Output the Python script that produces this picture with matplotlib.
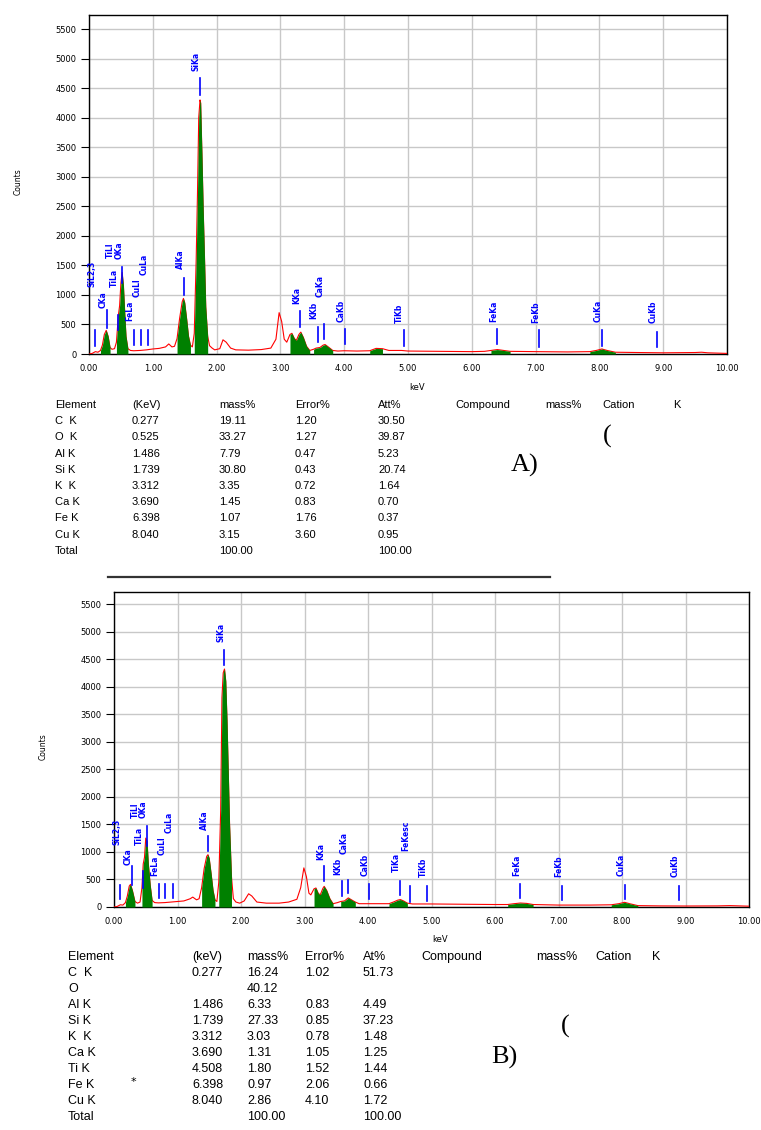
import numpy as np
import matplotlib
matplotlib.use("Agg")
import matplotlib.pyplot as plt
from matplotlib.lines import Line2D

# ---- spectrum A (keV, counts) ----
energy_a = [0.00, 0.05, 0.10, 0.14, 0.18, 0.21, 0.24, 0.27, 0.30, 0.33, 0.36, 0.40, 0.43, 0.46, 0.48,
            0.50, 0.52, 0.54, 0.56, 0.58, 0.61, 0.65, 0.70, 0.80, 0.90, 1.00, 1.10, 1.20, 1.25, 1.30,
            1.34, 1.38, 1.42, 1.46, 1.48, 1.50, 1.53, 1.56, 1.59, 1.62, 1.65, 1.68, 1.70, 1.72, 1.74,
            1.75, 1.77, 1.79, 1.81, 1.83, 1.86, 1.89, 1.93, 1.97, 2.05, 2.10, 2.15, 2.22, 2.30, 2.50, 2.70,
            2.85, 2.93, 2.98, 3.02, 3.06, 3.10, 3.15, 3.18, 3.22, 3.25, 3.29, 3.32, 3.36, 3.41, 3.46,
            3.52, 3.56, 3.62, 3.67, 3.70, 3.75, 3.82, 3.90, 4.00, 4.20, 4.40, 4.50, 4.60, 4.70, 4.90,
            5.00, 5.50, 6.00, 6.20, 6.30, 6.40, 6.50, 6.60, 7.00, 7.50, 7.85, 7.95, 8.04, 8.12, 8.25,
            8.60, 9.00, 9.50, 9.60, 9.70, 10.00]
counts_a = [0, 10, 40, 30, 60, 150, 330, 400, 300, 110, 80, 90, 200, 650, 820,
            1200, 1380, 1150, 700, 300, 90, 60, 55, 60, 70, 85, 95, 120, 170, 120,
            130, 260, 600, 880, 940, 870, 600, 300, 150, 120, 350, 1600, 2700, 4000, 4300,
            4250, 3400, 2450, 1650, 800, 300, 140, 100, 70, 90, 240, 200, 100, 70, 65, 75,
            100, 250, 700, 550, 250, 200, 330, 350, 260, 230, 330, 370, 280, 130, 60,
            80, 100, 110, 150, 160, 120, 60, 50, 55, 50, 55, 95, 90, 60, 60,
            50, 45, 40, 45, 60, 75, 60, 45, 40, 35, 40, 60, 85, 60, 30,
            25, 20, 25, 30, 20, 10]
green_a = [(0.18, 0.34), (0.42, 0.62), (1.36, 1.60), (1.64, 1.87), (3.15, 3.46),
           (3.52, 3.84), (4.38, 4.62), (6.22, 6.60), (7.85, 8.25)]

lines_a = ["SiL2,3", "CKa", "TiLl", "TiLa", "OKa", "FeLa", "CuLl", "CuLa", "AlKa", "SiKa",
           "KKa", "KKb", "CaKa", "CaKb", "TiKb", "FeKa", "FeKb", "CuKa", "CuKb"]
line_kev_a = [0.10, 0.277, 0.395, 0.452, 0.525, 0.705, 0.811, 0.930, 1.486, 1.739,
              3.312, 3.589, 3.690, 4.012, 4.931, 6.398, 7.057, 8.040, 8.904]
# marker stub (low, high) and label start, in counts
stub_lo_a = [135, 434, None, 406, 1196, 152, 152, 152, 1000, 4382, 462, 209, 248, 169, 135, 169, 124, 135, 124]
stub_hi_a = [406, 745, None, 660, 1478, 406, 406, 406, 1280, 4664, 733, 451, 508, 417, 406, 417, 406, 406, 378]
label_at_a = [1130, 773, 1620, 1130, 1602, 564, 959, 1337, 1433, 4794, 846, 587, 970, 547, 530, 547, 530, 547, 530]

# ---- spectrum B ----
energy_b = [0.00, 0.05, 0.10, 0.14, 0.18, 0.21, 0.24, 0.26, 0.29, 0.33, 0.37, 0.41, 0.44, 0.46, 0.48,
            0.50, 0.52, 0.54, 0.57, 0.60, 0.64, 0.70, 0.80, 0.90, 1.00, 1.10, 1.20, 1.24, 1.30, 1.34,
            1.38, 1.42, 1.46, 1.48, 1.50, 1.53, 1.56, 1.59, 1.62, 1.65, 1.68, 1.70, 1.72, 1.74, 1.76,
            1.78, 1.80, 1.82, 1.85, 1.88, 1.92, 1.98, 2.05, 2.12, 2.17, 2.25, 2.40, 2.60, 2.75, 2.88,
            2.94, 2.99, 3.03, 3.07, 3.10, 3.15, 3.18, 3.22, 3.25, 3.29, 3.31, 3.35, 3.40, 3.45, 3.52,
            3.57, 3.63, 3.69, 3.74, 3.80, 3.86, 4.00, 4.20, 4.33, 4.40, 4.47, 4.51, 4.56, 4.62, 4.70,
            5.00, 5.50, 6.00, 6.20, 6.30, 6.40, 6.50, 6.60, 7.00, 7.50, 7.83, 7.95, 8.04, 8.12, 8.25,
            8.60, 9.00, 9.50, 9.70, 10.00]
counts_b = [0, 10, 40, 35, 80, 200, 380, 410, 300, 100, 70, 90, 350, 780, 900,
            1250, 1200, 800, 400, 120, 80, 75, 80, 90, 100, 110, 150, 180, 130, 150,
            350, 700, 920, 950, 880, 600, 300, 130, 100, 450, 1750, 3800, 4250, 4320, 4100,
            3380, 2440, 1500, 550, 150, 90, 70, 110, 240, 200, 90, 70, 70, 90, 140,
            350, 710, 550, 250, 220, 330, 345, 240, 225, 340, 375, 300, 150, 60, 80,
            100, 110, 165, 130, 90, 60, 60, 60, 60, 90, 125, 135, 110, 70, 55,
            55, 50, 45, 45, 60, 72, 65, 45, 35, 35, 40, 60, 85, 60, 25,
            20, 18, 20, 25, 15]
green_b = [(0.17, 0.36), (0.43, 0.62), (1.35, 1.60), (1.63, 1.87), (3.15, 3.45),
           (3.53, 3.85), (4.33, 4.69), (6.20, 6.60), (7.83, 8.25)]

lines_b = ["SiL2,3", "CKa", "TiLl", "TiLa", "OKa", "FeLa", "CuLl", "CuLa", "AlKa", "SiKa",
           "KKa", "KKb", "CaKa", "CaKb", "TiKa", "FeKesc", "TiKb", "FeKa", "FeKb", "CuKa", "CuKb"]
line_kev_b = [0.10, 0.277, 0.395, 0.452, 0.525, 0.705, 0.811, 0.930, 1.486, 1.739,
              3.312, 3.589, 3.690, 4.012, 4.508, 4.658, 4.931, 6.398, 7.057, 8.040, 8.904]
stub_lo_b = [145, 406, None, 345, 1103, 164, 164, 164, 1012, 4388, 467, 206, 255, 145, 224, 85, 103, 164, 121, 145, 121]
stub_hi_b = [406, 739, None, 648, 1467, 424, 424, 424, 1285, 4667, 739, 467, 497, 424, 467, 388, 388, 424, 388, 406, 376]
label_at_b = [1133, 770, 1618, 1133, 1618, 558, 952, 1345, 1406, 4812, 860, 588, 970, 558, 630, 1012, 545, 558, 545, 558, 545]

# ---- quantification tables ----
header_a = ["Element", "(KeV)", "mass%", "Error%", "Att%", "Compound", "mass%", "Cation", "K"]
elem_a = ["C  K", "O  K", "Al K", "Si K", "K  K", "Ca K", "Fe K", "Cu K", "Total"]
kev_a = ["0.277", "0.525", "1.486", "1.739", "3.312", "3.690", "6.398", "8.040", ""]
mass_a = ["19.11", "33.27", "7.79", "30.80", "3.35", "1.45", "1.07", "3.15", "100.00"]
err_a = ["1.20", "1.27", "0.47", "0.43", "0.72", "0.83", "1.76", "3.60", ""]
at_a = ["30.50", "39.87", "5.23", "20.74", "1.64", "0.70", "0.37", "0.95", "100.00"]

header_b = ["Element", "(keV)", "mass%", "Error%", "At%", "Compound", "mass%", "Cation", "K"]
elem_b = ["C  K", "O", "Al K", "Si K", "K  K", "Ca K", "Ti K", "Fe K", "Cu K", "Total"]
kev_b = ["0.277", "", "1.486", "1.739", "3.312", "3.690", "4.508", "6.398", "8.040", ""]
mass_b = ["16.24", "40.12", "6.33", "27.33", "3.03", "1.31", "1.80", "0.97", "2.86", "100.00"]
err_b = ["1.02", "", "0.83", "0.85", "0.78", "1.05", "1.52", "2.06", "4.10", ""]
at_b = ["51.73", "", "4.49", "37.23", "1.48", "1.25", "1.44", "0.66", "1.72", "100.00"]

W, H = 761, 1130
fig = plt.figure(figsize=(W / 100, H / 100), dpi=100)


def px(x, y):
    return x / W, 1 - y / H


def draw_spectrum(rect, ymax, energy, counts, green, names, kev, lo, hi, lab, counts_xy, kev_xy):
    ax = fig.add_axes(rect)
    e = np.array(energy)
    c = np.array(counts)
    ax.plot(e, c, color="#ff0000", lw=0.8, zorder=3)
    for a, b in green:
        m = (e >= a) & (e <= b)
        ax.fill_between(e[m], 0, c[m], color="#008000", lw=0, zorder=4)
    for i, name in enumerate(names):
        if lo[i] is not None:
            ax.plot([kev[i], kev[i]], [lo[i], hi[i]], color="#0000ff", lw=1.2, zorder=5)
        ax.text(kev[i] - 0.06, lab[i], name, rotation=90, color="#0000ff", fontsize=5.5,
                fontweight="bold", ha="center", va="bottom", zorder=6)
    ax.set_xlim(0, 10)
    ax.set_ylim(0, ymax)
    ax.set_xticks(range(11))
    ax.set_xticklabels(["%.2f" % v for v in range(11)])
    ax.set_yticks(range(0, 5501, 500))
    ax.grid(True, color="#c8c8c8", lw=1)
    ax.set_axisbelow(True)
    ax.tick_params(axis="x", length=0, pad=7, labelsize=6)
    ax.tick_params(axis="y", length=6, width=0.8, pad=3, labelsize=6)
    for s in ax.spines.values():
        s.set_linewidth(1)
        s.set_color("black")
    fig.text(*px(*counts_xy), "Counts", rotation=90, fontsize=5.5, ha="center", va="center")
    fig.text(*px(*kev_xy), "keV", fontsize=6, ha="center", va="center")
    return ax


draw_spectrum([89 / W, 1 - 354 / H, 638 / W, 339 / H], 5737, energy_a, counts_a, green_a,
              lines_a, line_kev_a, stub_lo_a, stub_hi_a, label_at_a, (18, 182), (417, 388))
draw_spectrum([114 / W, 1 - 907 / H, 635 / W, 315 / H], 5718, energy_b, counts_b, green_b,
              lines_b, line_kev_b, stub_lo_b, stub_hi_b, label_at_b, (43, 747), (440, 939))

tfont = ["Liberation Sans Narrow", "Liberation Sans", "DejaVu Sans"]


def draw_table(cols_x, y0, dy, header, rows, size):
    for j, h in enumerate(header):
        fig.text(*px(cols_x[j], y0), h, fontsize=size, family=tfont, va="center", ha="left")
    for i, row in enumerate(rows):
        for j, v in enumerate(row):
            if v:
                fig.text(*px(cols_x[j], y0 + dy * (i + 1)), v, fontsize=size, family=tfont,
                         va="center", ha="left")


draw_table([55, 132, 219, 295, 378, 455, 545, 602, 673], 405, 16.2, header_a,
           list(zip(elem_a, kev_a, mass_a, err_a, at_a)), 8)
draw_table([68, 192, 247, 305, 363, 421, 536, 595, 652], 957, 16.0, header_b,
           list(zip(elem_b, kev_b, mass_b, err_b, at_b)), 9)
fig.text(*px(133, 1082), "*", fontsize=8, ha="center", va="center")

serif = ["Liberation Serif", "DejaVu Serif"]
fig.text(*px(607, 436), "(", fontsize=19, family=serif, ha="center", va="center")
fig.text(*px(525, 465), "A)", fontsize=19, family=serif, ha="center", va="center")
fig.text(*px(565, 1026), "(", fontsize=19, family=serif, ha="center", va="center")
fig.text(*px(504, 1057), "B)", fontsize=19, family=serif, ha="center", va="center")

# dark rule between the two panels
fig.add_artist(Line2D([108 / W, 550 / W], [1 - 577 / H] * 2, color="#333333", lw=1.6))

fig.savefig("out.png", dpi=100)
